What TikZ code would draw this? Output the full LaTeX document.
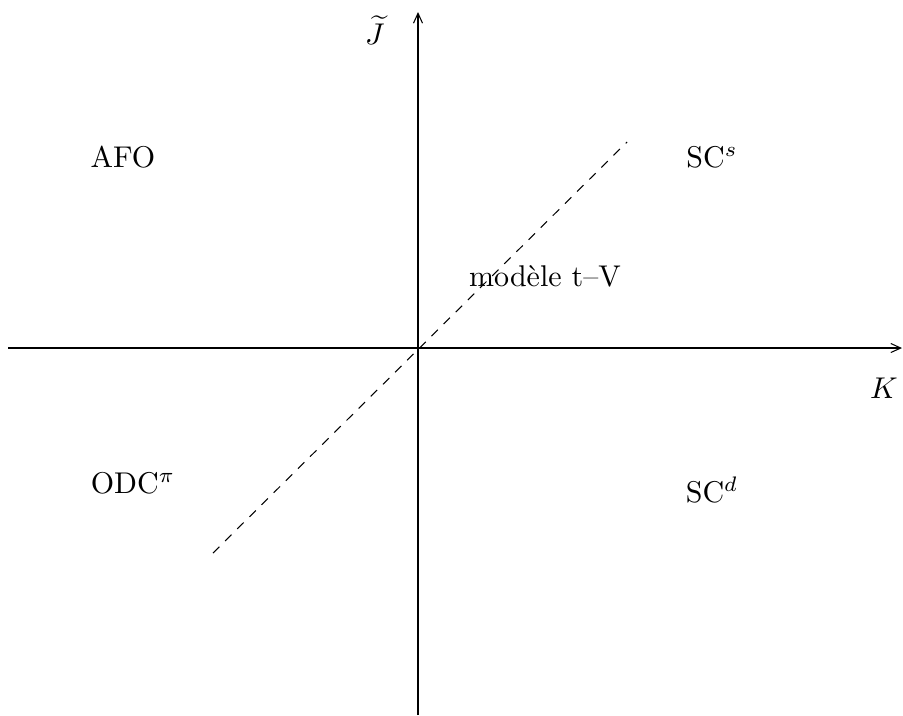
\documentclass[tikz,border=0pt]{standalone}
\usetikzlibrary{arrows.meta}
\begin{document}
\begin{tikzpicture}[x=0.3333pt,y=-0.3333pt,
  axis/.style={line width=0.35pt,-{Straight Barb[length=3.3pt,width=3pt]}},
  diag/.style={line width=0.35pt,dash pattern=on 3pt off 2.7pt},
  lbl/.style={inner sep=0pt,font=\fontsize{10}{12}\selectfont}]
\useasboundingbox (0,0) rectangle (903,715);
\coordinate (xl) at (8,348);
\coordinate (xr) at (902,348);
\coordinate (yb) at (418,715);
\coordinate (yt) at (418,12);
\coordinate (dl) at (213,553);
\coordinate (dr) at (627,142);
\draw[axis] (xl) -- (xr);
\draw[axis] (yb) -- (yt);
\draw[diag] (dl) -- (dr);
\node[lbl] (J) at (375,30) {$\widetilde{J}$};
\node[lbl] (K) at (884,388) {$K$};
\node[lbl] (afo) at (123,157) {AFO};
\node[lbl] (scs) at (712,157) {SC$^s$};
\node[lbl] (tv) at (545,276) {modèle t--V};
\node[lbl] (odc) at (133,483) {ODC$^\pi$};
\node[lbl] (scd) at (712,490) {SC$^d$};
\end{tikzpicture}
\end{document}
